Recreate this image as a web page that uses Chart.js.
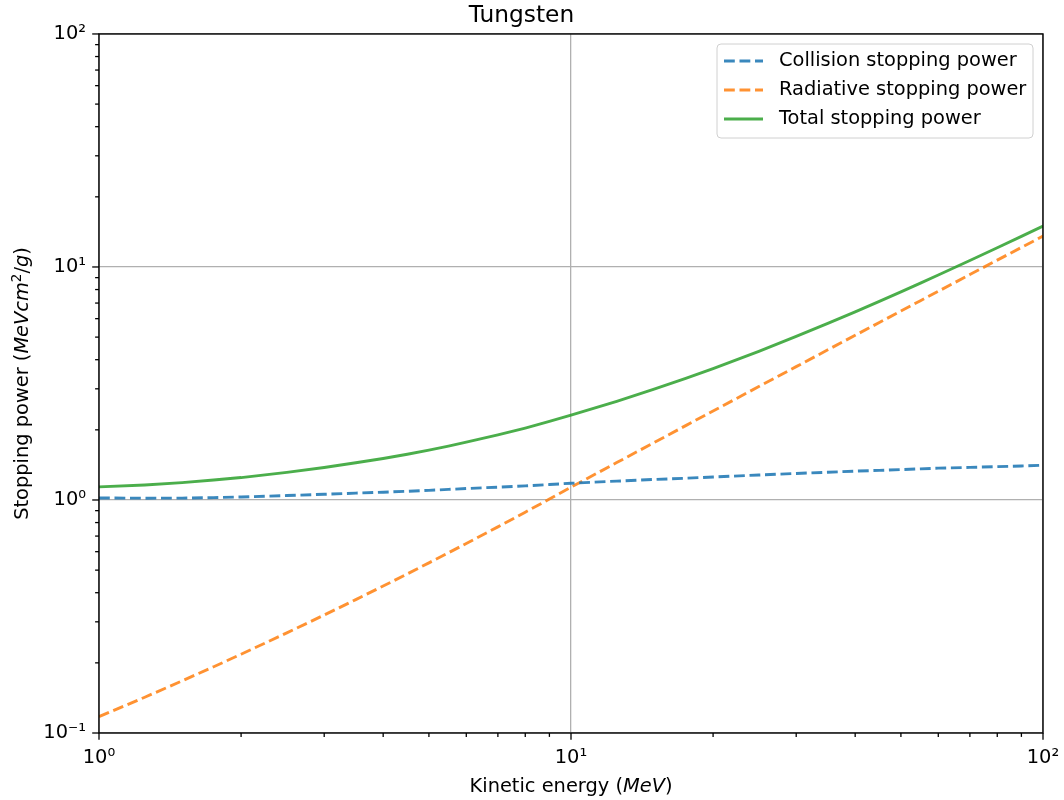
<!DOCTYPE html>
<html><head><meta charset="utf-8">
<script src="https://cdn.jsdelivr.net/npm/chart.js@4.4.0/dist/chart.umd.min.js"></script>
<style>html,body{margin:0;padding:0;background:#fff;}</style>
</head><body>
<canvas id="c" width="1064" height="800"></canvas>
<script>
// ---- data ----
const energy    = [1, 1.25, 1.5, 1.75, 2, 2.5, 3, 3.5, 4, 4.5, 5, 5.5, 6, 7, 8, 9, 10, 12.5, 15, 17.5, 20, 25, 30, 35, 40, 45, 50, 55, 60, 70, 80, 90, 100];
const collision = [1.020, 1.018, 1.019, 1.024, 1.030, 1.045, 1.058, 1.070, 1.080, 1.090, 1.100, 1.110, 1.120, 1.135, 1.150, 1.165, 1.180, 1.205, 1.225, 1.240, 1.255, 1.280, 1.300, 1.315, 1.330, 1.340, 1.350, 1.360, 1.370, 1.380, 1.390, 1.400, 1.410];
const radiative = [0.1175, 0.1424, 0.1674, 0.1925, 0.2178, 0.2689, 0.3209, 0.3737, 0.4272, 0.4818, 0.5373, 0.5933, 0.6505, 0.7667, 0.8864, 1.009, 1.135, 1.447, 1.764, 2.085, 2.410, 3.067, 3.735, 4.410, 5.090, 5.777, 6.469, 7.165, 7.865, 9.275, 10.70, 12.13, 13.57];
const total     = [1.138, 1.160, 1.187, 1.218, 1.248, 1.314, 1.379, 1.444, 1.507, 1.572, 1.637, 1.703, 1.771, 1.902, 2.036, 2.174, 2.315, 2.652, 2.989, 3.325, 3.665, 4.347, 5.035, 5.725, 6.420, 7.117, 7.819, 8.525, 9.235, 10.66, 12.09, 13.53, 14.98];
const seriesLabels = ['Collision stopping power', 'Radiative stopping power', 'Total stopping power'];
const xTickValues = [1,2,3,4,5,6,7,8,9,10,20,30,40,50,60,70,80,90,100];
const yTickValues = [0.1,0.2,0.3,0.4,0.5,0.6,0.7,0.8,0.9,1,2,3,4,5,6,7,8,9,10,20,30,40,50,60,70,80,90,100];
const titleText = 'Tungsten';

// ---- helpers ----
const FONT = 'DejaVu Sans';
const FS = 19.4;
const sup = {'-':'\u207B','0':'\u2070','1':'\u00B9','2':'\u00B2','3':'\u00B3'};
function isDecade(v){ const l = Math.log10(v); return Math.abs(l - Math.round(l)) < 1e-9; }
function decadeLabel(v){
  if (!isDecade(v)) return '';
  const e = String(Math.round(Math.log10(v)));
  return '10' + e.split('').map(c => sup[c]).join('');
}
const toXY = arr => energy.map((e, i) => ({x: e, y: arr[i]}));

const blue = 'rgba(31,119,180,0.88)';
const orange = 'rgba(255,127,14,0.85)';
const green = 'rgba(44,160,44,0.85)';
const dash = [10.8, 4.7];
const LW = 2.9;

// ---- custom drawing: spines, tick marks, axis titles, legend ----
const decorPlugin = {
  id: 'decor',
  afterDraw(chart) {
    const ctx = chart.ctx;
    const a = chart.chartArea;
    const xs = chart.scales.x, ys = chart.scales.y;
    ctx.save();
    ctx.strokeStyle = '#000';
    ctx.lineWidth = 1.3;
    xTickValues.forEach(v => {
      const px = xs.getPixelForValue(v);
      const len = isDecade(v) ? 6.8 : 3.9;
      ctx.beginPath(); ctx.moveTo(px, a.bottom); ctx.lineTo(px, a.bottom + len); ctx.stroke();
    });
    yTickValues.forEach(v => {
      const py = ys.getPixelForValue(v);
      const len = isDecade(v) ? 6.8 : 3.9;
      ctx.beginPath(); ctx.moveTo(a.left, py); ctx.lineTo(a.left - len, py); ctx.stroke();
    });
    ctx.lineWidth = 1.4;
    ctx.strokeRect(a.left, a.top, a.right - a.left, a.bottom - a.top);

    function drawSegments(segs, cx, cy) {
      let w = 0;
      segs.forEach(s => { ctx.font = s.font; s.w = ctx.measureText(s.t).width; w += s.w; });
      let x = cx - w / 2;
      ctx.textBaseline = 'alphabetic';
      ctx.textAlign = 'left';
      segs.forEach(s => { ctx.font = s.font; ctx.fillText(s.t, x, cy + (s.dy || 0)); x += s.w; });
    }
    ctx.fillStyle = '#000';
    const n = FS + 'px "' + FONT + '"', it = 'italic ' + FS + 'px "' + FONT + '"', sm = '13.5px "' + FONT + '"';
    drawSegments([{t:'Kinetic energy (', font:n}, {t:'MeV', font:it}, {t:')', font:n}], (a.left + a.right) / 2, 792);
    ctx.save();
    ctx.translate(28, (a.top + a.bottom) / 2);
    ctx.rotate(-Math.PI / 2);
    drawSegments([{t:'Stopping power (', font:n}, {t:'MeVcm', font:it}, {t:'2', font:sm, dy:-7.5},
                  {t:'/', font:n}, {t:'g', font:it}, {t:')', font:n}], 0, 0);
    ctx.restore();

    // legend
    const lx = 717, ly = 44, lw = 316, lh = 94, r = 4;
    ctx.beginPath();
    ctx.moveTo(lx + r, ly); ctx.lineTo(lx + lw - r, ly); ctx.arcTo(lx + lw, ly, lx + lw, ly + r, r);
    ctx.lineTo(lx + lw, ly + lh - r); ctx.arcTo(lx + lw, ly + lh, lx + lw - r, ly + lh, r);
    ctx.lineTo(lx + r, ly + lh); ctx.arcTo(lx, ly + lh, lx, ly + lh - r, r);
    ctx.lineTo(lx, ly + r); ctx.arcTo(lx, ly, lx + r, ly, r); ctx.closePath();
    ctx.fillStyle = 'rgba(255,255,255,0.8)'; ctx.fill();
    ctx.strokeStyle = '#d0d0d0'; ctx.lineWidth = 1; ctx.stroke();
    chart.data.datasets.forEach((ds, i) => {
      const yy = 61 + i * 29;
      ctx.strokeStyle = ds.borderColor; ctx.lineWidth = LW;
      ctx.setLineDash(ds.borderDash || []);
      ctx.beginPath(); ctx.moveTo(724, yy); ctx.lineTo(763, yy); ctx.stroke();
      ctx.setLineDash([]);
      ctx.fillStyle = '#000'; ctx.font = n; ctx.textBaseline = 'middle'; ctx.textAlign = 'left';
      ctx.fillText(ds.label, 779, yy);
    });
    ctx.restore();
  }
};

const gridColor = c => (c.tick && isDecade(c.tick.value)) ? '#b0b0b0' : 'rgba(0,0,0,0)';

new Chart(document.getElementById('c'), {
  type: 'line',
  data: {
    datasets: [
      {label: seriesLabels[0], data: toXY(collision), borderColor: blue, borderDash: dash, borderWidth: LW, pointRadius: 0, fill: false, tension: 0},
      {label: seriesLabels[1], data: toXY(radiative), borderColor: orange, borderDash: dash, borderWidth: LW, pointRadius: 0, fill: false, tension: 0},
      {label: seriesLabels[2], data: toXY(total), borderColor: green, borderWidth: LW, pointRadius: 0, fill: false, tension: 0}
    ]
  },
  options: {
    responsive: false,
    devicePixelRatio: 1,
    animation: false,
    layout: {padding: {left: 0, right: 21, top: 0, bottom: 0}},
    plugins: {
      legend: {display: false},
      tooltip: {enabled: false},
      title: {display: true, text: titleText, color: '#000', font: {family: FONT, size: 23.3, weight: 'normal'}, padding: {top: 2, bottom: 4}}
    },
    scales: {
      x: {
        type: 'logarithmic', min: 1, max: 100,
        afterBuildTicks: s => { s.ticks = xTickValues.map(v => ({value: v, major: isDecade(v)})); },
        afterFit: s => { s.height = 67; s.paddingLeft = 0; s.paddingRight = 0; },
        ticks: {autoSkip: false, maxRotation: 0, color: '#000', font: {family: FONT, size: FS}, padding: 13, callback: v => decadeLabel(v)},
        grid: {color: gridColor, lineWidth: 1.3, drawTicks: false},
        border: {display: false}
      },
      y: {
        type: 'logarithmic', min: 0.1, max: 100,
        afterBuildTicks: s => { s.ticks = yTickValues.map(v => ({value: v, major: isDecade(v)})); },
        afterFit: s => { s.width = 99; s.paddingTop = 0; s.paddingBottom = 0; },
        ticks: {autoSkip: false, color: '#000', font: {family: FONT, size: FS}, padding: 13, callback: v => decadeLabel(v)},
        grid: {color: gridColor, lineWidth: 1.3, drawTicks: false},
        border: {display: false}
      }
    }
  },
  plugins: [decorPlugin]
});
</script>
</body></html>
